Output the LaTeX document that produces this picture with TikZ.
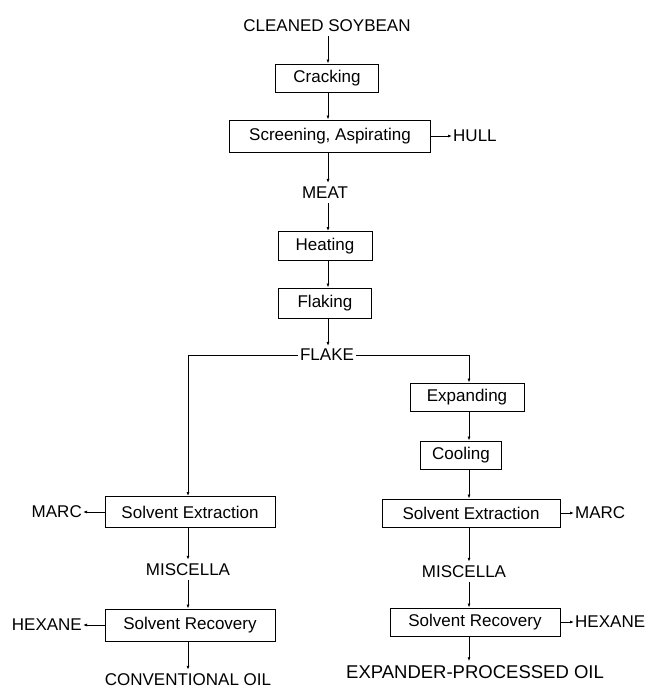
\documentclass[tikz,border=0pt]{standalone}
\usepackage{fontspec}
\setmainfont{Liberation Sans}
\usetikzlibrary{arrows.meta}
\begin{document}
\begin{tikzpicture}[x=1pt,y=-1pt,
  every node/.style={font=\fontsize{17}{20}\selectfont, inner sep=0pt},
  pbox/.style={draw, line width=0.9pt, inner sep=0pt},
  lbl/.style={},
  arr/.style={line width=0.8pt, -{Latex[length=4pt,width=3pt]}},
  ln/.style={line width=0.8pt}]
\useasboundingbox (0,0) rectangle (648,692);
\coordinate (cx) at (328,0);
\coordinate (lx) at (188,0);
\coordinate (rx) at (469,0);
% main column
\node[lbl] (soy) at (327,26) {CLEANED SOYBEAN};
\node[pbox, minimum width=103, minimum height=28] (crack) at (327,78) {Cracking};
\node[pbox, minimum width=201, minimum height=32] (screen) at (330,136) {Screening, Aspirating};
\node[lbl, anchor=west] (hull) at (453,136) {HULL};
\node[lbl] (meat) at (325,193) {MEAT};
\node[pbox, minimum width=94, minimum height=29] (heat) at (325,246) {Heating};
\node[pbox, minimum width=93, minimum height=30] (flak) at (325,303) {Flaking};
\node[lbl] (flake) at (327,355) {FLAKE};
% right column
\node[pbox, minimum width=114, minimum height=28] (expand) at (467,397) {Expanding};
\node[pbox, minimum width=81, minimum height=28] (cool) at (461,455) {Cooling};
\node[pbox, minimum width=178, minimum height=28] (seR) at (471,513) {Solvent Extraction};
\node[lbl, anchor=west] (marcR) at (575,513) {MARC};
\node[lbl] (miscR) at (464,572) {MISCELLA};
\node[pbox, minimum width=170, minimum height=28] (srR) at (475,622) {Solvent Recovery};
\node[lbl, anchor=west] (hexR) at (575,622) {HEXANE};
\node[lbl, font=\fontsize{18.5}{21}\selectfont] (oilR) at (475,672) {EXPANDER-PROCESSED OIL};
% left column
\node[pbox, minimum width=170, minimum height=31] (seL) at (190,512) {Solvent Extraction};
\node[lbl, anchor=east] (marcL) at (82,512) {MARC};
\node[lbl] (miscL) at (188,570) {MISCELLA};
\node[pbox, minimum width=170, minimum height=32] (srL) at (190,625) {Solvent Recovery};
\node[lbl, anchor=east] (hexL) at (82,625) {HEXANE};
\node[lbl] (oilL) at (188,680) {CONVENTIONAL OIL};
% connectors main
\draw[arr] ([yshift=-4]soy.south -| cx) -- (crack.north -| cx);
\draw[arr] (crack.south -| cx) -- (screen.north -| cx);
\draw[arr] (screen.east) -- ([xshift=-1]hull.west);
\draw[arr] (screen.south -| cx) -- ([yshift=4]meat.north -| cx);
\draw[arr] ([yshift=-4]meat.south -| cx) -- (heat.north -| cx);
\draw[arr] (heat.south -| cx) -- (flak.north -| cx);
\draw[arr] (flak.south -| cx) -- ([yshift=3]flake.north -| cx);
% split
\draw[arr] ([xshift=-2]flake.west) -| (seL.north -| lx);
\draw[arr] ([xshift=2]flake.east) -| (expand.north -| rx);
% right
\draw[arr] (expand.south -| rx) -- (cool.north -| rx);
\draw[arr] (cool.south -| rx) -- (seR.north -| rx);
\draw[arr] (seR.east) -- ([xshift=-1]marcR.west);
\draw[arr] (seR.south -| rx) -- ([yshift=4]miscR.north -| rx);
\draw[arr] ([yshift=-4]miscR.south -| rx) -- (srR.north -| rx);
\draw[arr] (srR.east) -- ([xshift=-1]hexR.west);
\draw[arr] (srR.south -| rx) -- ([yshift=4]oilR.north -| rx);
% left
\draw[arr] (seL.west) -- ([xshift=1]marcL.east);
\draw[arr] (seL.south -| lx) -- ([yshift=4]miscL.north -| lx);
\draw[arr] ([yshift=-4]miscL.south -| lx) -- (srL.north -| lx);
\draw[arr] (srL.west) -- ([xshift=1]hexL.east);
\draw[arr] (srL.south -| lx) -- ([yshift=4]oilL.north -| lx);
\end{tikzpicture}
\end{document}
